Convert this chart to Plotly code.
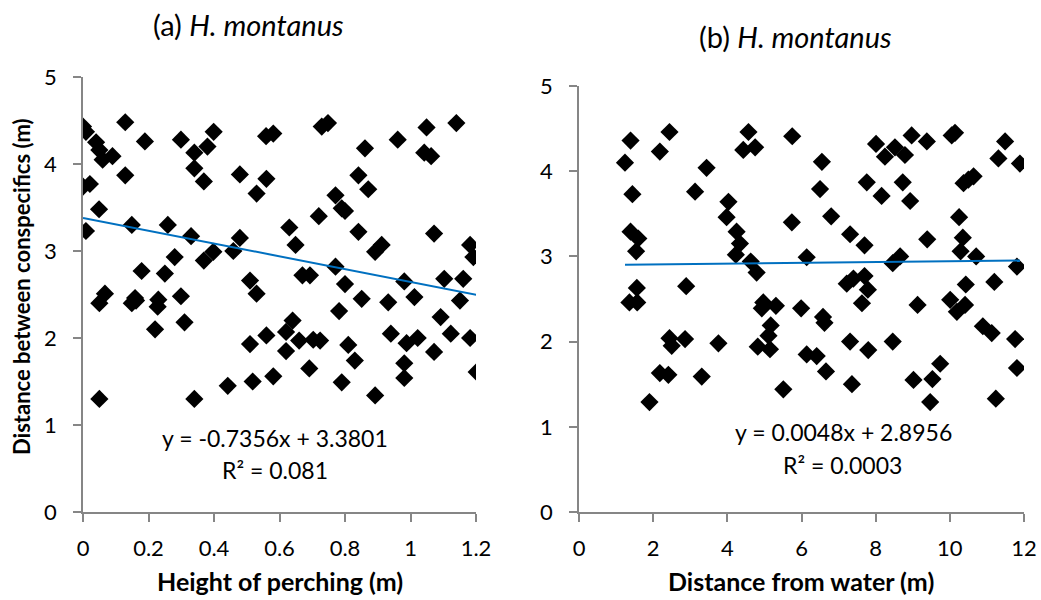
import plotly.graph_objects as go

# ---- Panel (a): Height of perching (m) vs distance between conspecifics (m)
height_x = [0.00, 0.009, 0.129, 0.04, 0.05, 0.06, 0.09, 0.189, 0.299, 0.399, 0.34, 0.38, 0.34, 0.369,
            0.129, 0.00, 0.021, 0.479, 0.56, 0.53, 0.559, 0.581, 0.729, 0.748, 0.049, 0.149, 0.009,
            0.259, 0.33, 0.479, 0.459, 0.398, 0.369, 0.28, 0.179, 0.25, 0.51, 0.53, 0.63, 0.649, 0.72,
            0.67, 0.693, 0.067, 0.159, 0.299, 0.23,
            0.861, 0.961, 1.049, 1.14, 1.042, 1.063, 0.841, 0.871, 0.771, 0.79, 0.80, 0.841, 1.072,
            0.892, 0.912, 1.182, 1.192, 0.771, 0.80, 0.851, 0.932, 0.981, 1.012, 1.103, 1.161, 1.151,
            0.782, 1.092, 0.94, 0.988, 1.022, 1.123, 1.182, 0.81, 0.83, 1.072, 0.981, 0.981, 0.79,
            0.892, 1.202, 0.724,
            0.05, 0.149, 0.162, 0.228, 0.22, 0.31, 0.05, 0.34, 0.442, 0.518, 0.581, 0.691, 0.51, 0.56,
            0.62, 0.64, 0.62, 0.66, 0.703]
height_y = [4.43, 4.37, 4.48, 4.25, 4.16, 4.05, 4.09, 4.26, 4.28, 4.37, 4.13, 4.20, 3.95, 3.80,
            3.87, 3.74, 3.77, 3.88, 3.83, 3.66, 4.32, 4.35, 4.43, 4.47, 3.48, 3.30, 3.23,
            3.30, 3.17, 3.15, 3.00, 2.99, 2.89, 2.93, 2.77, 2.74, 2.66, 2.51, 3.27, 3.07, 3.40,
            2.72, 2.72, 2.51, 2.46, 2.48, 2.44,
            4.18, 4.28, 4.42, 4.47, 4.13, 4.09, 3.87, 3.71, 3.64, 3.49, 3.46, 3.22, 3.20,
            2.99, 3.07, 3.07, 2.93, 2.82, 2.62, 2.45, 2.41, 2.65, 2.47, 2.68, 2.68, 2.43,
            2.31, 2.24, 2.05, 1.94, 2.00, 2.05, 2.00, 1.92, 1.74, 1.84, 1.71, 1.54, 1.49,
            1.34, 1.61, 1.97,
            2.40, 2.40, 2.43, 2.36, 2.10, 2.18, 1.30, 1.30, 1.45, 1.50, 1.56, 1.65, 1.93, 2.03,
            2.07, 2.20, 1.85, 1.97, 1.98]

# ---- Panel (b): Distance from water (m) vs distance between conspecifics (m)
water_x = [1.39, 2.44, 2.18, 1.24, 3.44, 4.57, 4.43, 4.75, 5.75, 1.44, 3.13, 4.03, 3.98, 5.74,
           4.25, 1.39, 1.60, 4.34, 1.54, 4.23, 4.63, 4.79, 6.14, 1.56, 1.36, 1.57, 2.89, 4.97,
           4.93, 5.31, 5.99,
           8.01, 8.52, 8.25, 8.79, 8.97, 9.38, 10.05, 10.14, 11.49, 11.31, 11.89, 6.55, 6.50,
           7.76, 8.73, 8.16, 8.93, 10.37, 10.64, 10.50, 6.80, 10.25, 7.31, 7.70, 9.39, 10.35,
           10.29, 10.71, 8.46, 8.66, 11.81, 7.22, 7.40, 7.70, 7.79, 7.63, 10.43, 11.20, 9.13,
           10.01, 10.41, 10.19, 6.58,
           2.44, 2.86, 2.50, 3.76, 2.18, 2.41, 3.31, 1.90, 5.17, 5.11, 4.82, 5.15, 6.14, 5.51,
           6.62, 7.31, 7.80, 8.46, 6.41, 6.66, 7.36, 10.89, 11.13, 11.76, 9.74, 9.02, 9.53,
           11.81, 9.47, 11.24]
water_y = [4.36, 4.46, 4.23, 4.10, 4.04, 4.46, 4.25, 4.28, 4.41, 3.73, 3.76, 3.64, 3.46, 3.40,
           3.29, 3.29, 3.21, 3.15, 3.06, 3.02, 2.94, 2.81, 2.99, 2.63, 2.46, 2.46, 2.65, 2.46,
           2.39, 2.42, 2.39,
           4.32, 4.28, 4.17, 4.19, 4.42, 4.35, 4.42, 4.45, 4.35, 4.15, 4.09, 4.11, 3.79,
           3.87, 3.87, 3.71, 3.65, 3.86, 3.94, 3.90, 3.47, 3.46, 3.26, 3.13, 3.20, 3.22,
           3.06, 3.00, 2.92, 3.00, 2.88, 2.68, 2.74, 2.77, 2.61, 2.45, 2.67, 2.70, 2.43,
           2.49, 2.43, 2.35, 2.29,
           2.04, 2.03, 1.95, 1.98, 1.63, 1.61, 1.59, 1.29, 2.19, 2.07, 1.94, 1.91, 1.85, 1.44,
           2.22, 2.00, 1.90, 2.00, 1.83, 1.65, 1.50, 2.18, 2.10, 2.03, 1.74, 1.55, 1.56,
           1.69, 1.29, 1.33]

# Trend line coefficients (as printed on the chart)
trend_a = [-0.7356, 3.3801]
trend_b = [0.0048, 2.8956]
eq_a = ["y = -0.7356x + 3.3801", "R² = 0.081"]
eq_b = ["y = 0.0048x + 2.8956", "R² = 0.0003"]
titles = ["(a) <i>H. montanus</i>", "(b) <i>H. montanus</i>"]
x_titles = ["Height of perching (m)", "Distance from water (m)"]
y_title = "Distance between conspecifics (m)"

W, H = 1041, 600
FONT = "Lato, 'Open Sans', sans-serif"
AXCOL = "#868686"
LINECOL = "#0070C0"

fig = go.Figure()

marker = dict(symbol="diamond", size=14, color="black", line=dict(width=0))

fig.add_trace(go.Scatter(x=height_x, y=height_y, mode="markers", marker=marker,
                         xaxis="x", yaxis="y", showlegend=False))
xa0, xa1 = min(height_x + [0]), max(height_x)
fig.add_trace(go.Scatter(x=[xa0, xa1], y=[trend_a[0] * xa0 + trend_a[1], trend_a[0] * xa1 + trend_a[1]],
                         mode="lines", line=dict(color=LINECOL, width=2),
                         xaxis="x", yaxis="y", showlegend=False))

fig.add_trace(go.Scatter(x=water_x, y=water_y, mode="markers", marker=marker,
                         xaxis="x2", yaxis="y2", showlegend=False))
xb0, xb1 = min(water_x), max(water_x)
fig.add_trace(go.Scatter(x=[xb0, xb1], y=[trend_b[0] * xb0 + trend_b[1], trend_b[0] * xb1 + trend_b[1]],
                         mode="lines", line=dict(color=LINECOL, width=2),
                         xaxis="x2", yaxis="y2", showlegend=False))

def px(x):
    return x / W

def py(y):
    return 1 - y / H

common_axis = dict(showgrid=False, zeroline=False, showline=True, linecolor=AXCOL, linewidth=1.5,
                   ticks="outside", ticklen=8, tickwidth=1.5, tickcolor=AXCOL, automargin=False,
                   tickfont=dict(family=FONT, size=22, color="#000"), fixedrange=True)
xaxis_extra = dict(ticklabelstandoff=8)
yaxis_extra = dict(ticklabelstandoff=12)

fig.update_layout(
    width=W, height=H,
    margin=dict(l=0, r=0, t=0, b=0, pad=0, autoexpand=False),
    paper_bgcolor="white", plot_bgcolor="white",
    xaxis=dict(common_axis, **xaxis_extra, domain=[px(83), px(476)], range=[0, 1.2],
               tickvals=[0, 0.2, 0.4, 0.6, 0.8, 1, 1.2],
               ticktext=["0", "0.2", "0.4", "0.6", "0.8", "1", "1.2"], anchor="y"),
    yaxis=dict(common_axis, **yaxis_extra, domain=[py(512), py(77)], range=[0, 5], dtick=1, anchor="x"),
    xaxis2=dict(common_axis, **xaxis_extra, domain=[px(579), px(1024)], range=[0, 12], dtick=2, anchor="y2"),
    yaxis2=dict(common_axis, **yaxis_extra, domain=[py(512), py(86)], range=[0, 5], dtick=1, anchor="x2"),
)

ann = []
def add_text(text, x, y, size, bold=False, angle=0):
    ann.append(dict(text=f"<b>{text}</b>" if bold else text, x=px(x), y=py(y), xref="paper", yref="paper",
                    showarrow=False, xanchor="center", yanchor="middle", textangle=angle,
                    font=dict(family=FONT, size=size, color="#000")))

add_text(titles[0], 248, 25, 29)
add_text(titles[1], 795, 37, 29)
add_text(x_titles[0], 280, 581, 25, bold=True)
add_text(x_titles[1], 801, 581, 25, bold=True)
add_text(y_title, 22, 287, 22, bold=True, angle=-90)
add_text(eq_a[0], 275, 438, 23)
add_text(eq_a[1], 275, 470, 23)
add_text(eq_b[0], 843, 432, 23)
add_text(eq_b[1], 842, 465, 23)

fig.update_layout(annotations=ann)
fig.write_html("out.html", post_script="document.body.style.margin='0';document.body.style.overflow='hidden';")
